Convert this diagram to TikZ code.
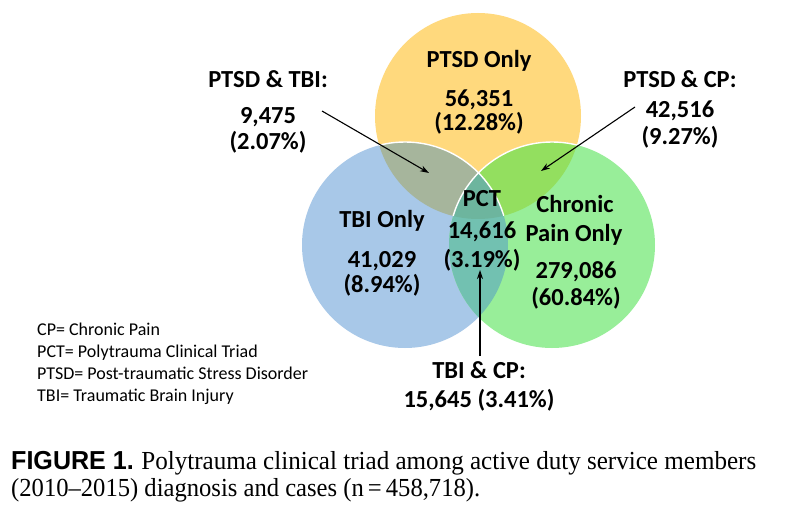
\documentclass[tikz,border=0pt]{standalone}
\usepackage{fontspec}
\setmainfont{Carlito}
\newfontfamily\capserif{Liberation Serif}
\newfontfamily\capsans{Liberation Sans}
\usepackage{graphicx}
\usetikzlibrary{arrows.meta}
\definecolor{cYel}{HTML}{FFD97D}
\definecolor{cBlu}{HTML}{A8C8E8}
\definecolor{cGrn}{HTML}{98EE99}
\definecolor{cYB}{HTML}{A6B59C}
\definecolor{cYG}{HTML}{93DF5F}
\definecolor{cBG}{HTML}{72C1B1}
\definecolor{cYBG}{HTML}{6DB59E}
\begin{document}
\begin{tikzpicture}[x=1pt,y=-1pt,
  lbl/.style={font=\fontsize{24.5}{28}\selectfont\bfseries, inner sep=0pt, anchor=base},
  leg/.style={font=\fontsize{18}{22}\selectfont, inner sep=0pt, anchor=base west},
  pointer/.style={-{Stealth[length=9pt,width=6pt]}, line width=1.1pt, black},
  sep/.style={draw=white, line width=1.4pt}]
\useasboundingbox[fill=white] (0,0) rectangle (796,532);
% circles
\def\R{103}
\coordinate (cy) at (478,116);
\coordinate (cb) at (405,245);
\coordinate (cg) at (552,245);
\fill[cYel] (cy) circle (\R);
\fill[cBlu] (cb) circle (\R);
\fill[cGrn] (cg) circle (\R);
\begin{scope}\clip (cy) circle (\R); \fill[cYB] (cb) circle (\R); \end{scope}
\begin{scope}\clip (cy) circle (\R); \fill[cYG] (cg) circle (\R); \end{scope}
\begin{scope}\clip (cb) circle (\R); \fill[cBG] (cg) circle (\R); \end{scope}
\begin{scope}\clip (cy) circle (\R); \clip (cb) circle (\R); \fill[cYBG] (cg) circle (\R); \end{scope}
\begin{scope}\clip (cy) circle (\R);
  \draw[sep] (cb) circle (\R);
  \draw[sep] (cg) circle (\R);
\end{scope}
% region labels
\node[lbl] (po1) at (479,68) {PTSD Only};
\node[lbl] (po2) at (479,107) {56,351};
\node[lbl] (po3) at (479,131) {(12.28\%)};
\node[lbl] (pt1) at (268,88) {PTSD \& TBI:};
\node[lbl] (pt2) at (268,124) {9,475};
\node[lbl] (pt3) at (268,150) {(2.07\%)};
\node[lbl] (pc1) at (680,88) {PTSD \& CP:};
\node[lbl] (pc2) at (680,118) {42,516};
\node[lbl] (pc3) at (680,145) {(9.27\%)};
\node[lbl] (to1) at (382,228) {TBI Only};
\node[lbl] (to2) at (382,267) {41,029};
\node[lbl] (to3) at (382,292) {(8.94\%)};
\node[lbl] (pct1) at (482,207) {PCT};
\node[lbl] (pct2) at (482,238) {14,616};
\node[lbl] (pct3) at (482,268) {(3.19\%)};
\node[lbl] (cp1) at (575,213) {Chronic};
\node[lbl] (cp2) at (574,242) {Pain Only};
\node[lbl] (cp3) at (576,278) {279,086};
\node[lbl] (cp4) at (576,305) {(60.84\%)};
\node[lbl] (tc1) at (479,378) {TBI \& CP:};
\node[lbl] (tc2) at (479,407) {15,645 (3.41\%)};
% pointers
\coordinate (a1s) at (322,111);
\coordinate (a1e) at (429,173);
\coordinate (a2s) at (635,107);
\coordinate (a2e) at (541,171);
\coordinate (a3s) at (480,356);
\coordinate (a3e) at (480,270);
\draw[pointer] (a1s) -- (a1e);
\draw[pointer] (a2s) -- (a2e);
\draw[pointer] (a3s) -- (a3e);
% legend
\node[leg] (l1) at (37,335) {CP= Chronic Pain};
\node[leg] (l2) at (37,357) {PCT= Polytrauma Clinical Triad};
\node[leg] (l3) at (37,379) {PTSD= Post-traumatic Stress Disorder};
\node[leg] (l4) at (37,401) {TBI= Traumatic Brain Injury};
% caption
\node[inner sep=0pt, anchor=base west] (cap1) at (11,469)
  {\resizebox{745pt}{\height}{\fontsize{26}{30}\selectfont{\capsans\bfseries FIGURE 1.} \capserif Polytrauma clinical triad among active duty service members}};
\node[inner sep=0pt, anchor=base west] (cap2) at (11,496)
  {\resizebox{469pt}{\height}{\fontsize{26}{30}\selectfont\capserif (2010\textendash 2015) diagnosis and cases (n\,=\,458,718).}};
\end{tikzpicture}
\end{document}
